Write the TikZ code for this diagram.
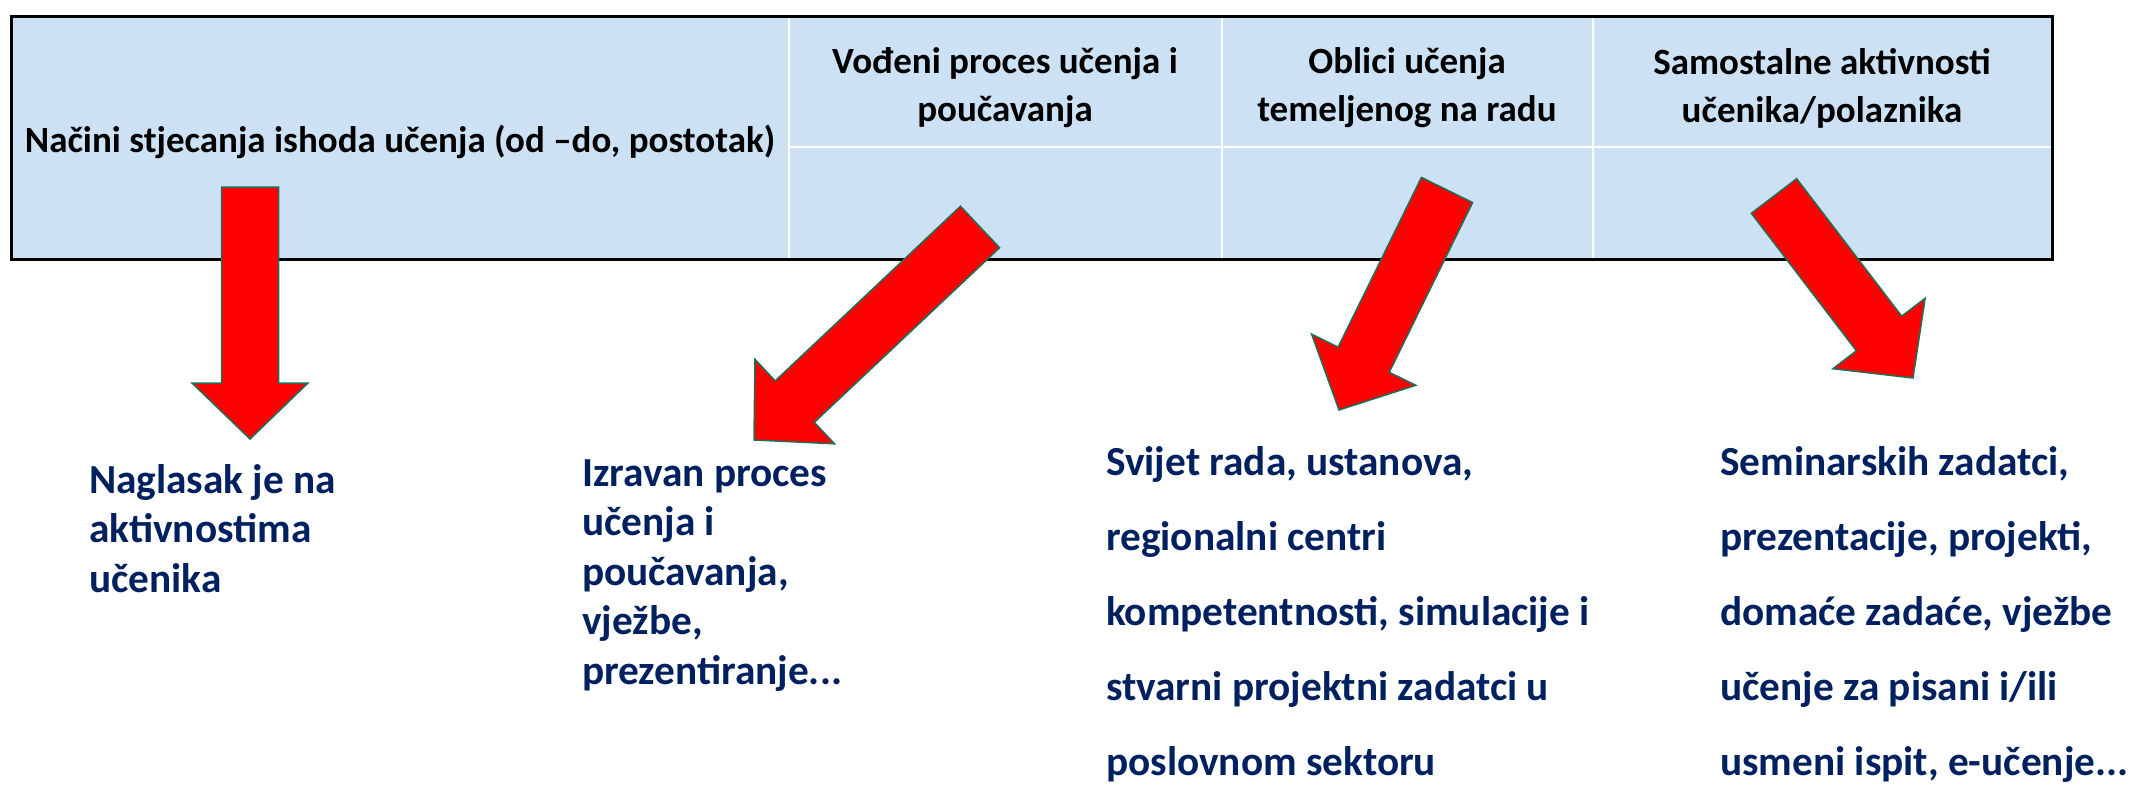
\documentclass[tikz,border=0pt]{standalone}
\usepackage{fontspec}
\setmainfont{Carlito}
\usetikzlibrary{positioning,calc}
\definecolor{cellblue}{RGB}{204,226,244}
\definecolor{navytext}{RGB}{0,32,96}
\definecolor{arrowedge}{RGB}{28,112,88}
\tikzset{%
  head/.style     = { font = \bfseries\fontsize{37}{48}\selectfont, align = center, text = black, inner sep = 0pt },
  note/.style     = { font = \bfseries\fontsize{41.3}{49.5}\selectfont, align = left, text = navytext,
                      anchor = base west, inner sep = 0pt },
  widenote/.style = { note, font = \bfseries\fontsize{41.3}{75}\selectfont },
  fatarrow/.style = { fill = red, draw = arrowedge, line width = 1.5pt, line join = miter }
}
% block arrow from tail #1 to tip #2
\newcommand{\fatarrow}[2]{%
  \coordinate (#2-base) at ($(#2)!56pt!(#1)$);
  \draw[fatarrow] ($(#1)!28.5pt!90:(#2)$) -- ($(#2-base)!28.5pt!90:(#2)$)
    -- ($(#2-base)!58pt!90:(#2)$) -- (#2) -- ($(#2-base)!58pt!-90:(#2)$)
    -- ($(#2-base)!28.5pt!-90:(#2)$) -- ($(#1)!28.5pt!-90:(#2)$) -- cycle;
}

\begin{document}
\begin{tikzpicture}[x=1pt, y=-1pt]
  \useasboundingbox (0,0) rectangle (2151,787);
  % table
  \fill[cellblue] (11,16) rectangle (2052,259);
  \draw[white, line width=2pt] (789,16) -- (789,259) (1222,16) -- (1222,259)
    (1593,16) -- (1593,259) (789,147) -- (2052,147);
  \draw[line width=3pt] (11,16) rectangle (2052,259);

  \node(h0)[head] at (400,142) {Načini stjecanja ishoda učenja (od –do, postotak)};
  \node(h1)[head] at (1005,88) {Vođeni proces učenja i\\poučavanja};
  \node(h2)[head] at (1407,88) {Oblici učenja\\temeljenog na radu};
  \node(h3)[head] at (1822,88) {Samostalne aktivnosti\\učenika/polaznika};

  % texts under the arrows (placed at the baseline of their last line)
  \node(n1)[note] at (89,592) {Naglasak je na\\aktivnostima\\učenika};
  \node(n2)[note] at (582,684) {Izravan proces\\učenja i\\poučavanja,\\vježbe,\\prezentiranje...};
  \node(n3)[widenote] at (1106,775) {Svijet rada, ustanova,\\regionalni centri\\kompetentnosti, simulacije i\\stvarni projektni zadatci u\\poslovnom sektoru};
  \node(n4)[widenote] at (1720,775) {Seminarskih zadatci,\\prezentacije, projekti,\\domaće zadaće, vježbe\\učenje za pisani i/ili\\usmeni ispit, e-učenje...};

  % arrows
  \coordinate (t1) at (250,187);  \coordinate (p1) at (250,439);
  \coordinate (t2) at (980,227);  \coordinate (p2) at (754,440);
  \coordinate (t3) at (1447,190); \coordinate (p3) at (1339,410);
  \coordinate (t4) at (1774,196); \coordinate (p4) at (1913,378);
  \fatarrow{t1}{p1}
  \fatarrow{t2}{p2}
  \fatarrow{t3}{p3}
  \fatarrow{t4}{p4}
\end{tikzpicture}
\end{document}
